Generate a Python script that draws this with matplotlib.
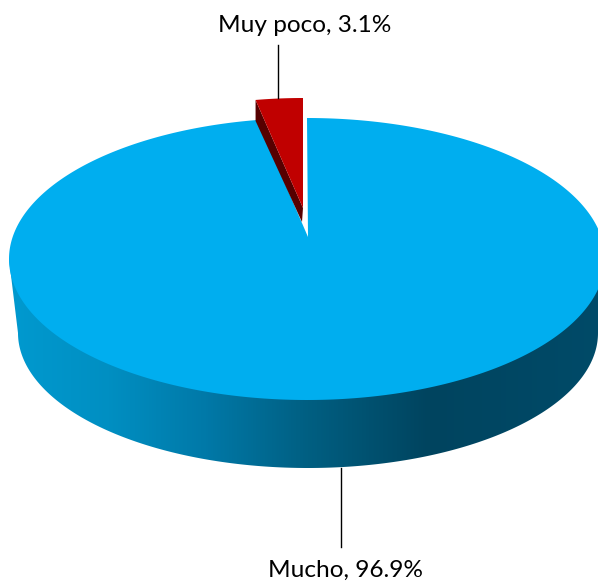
import numpy as np
import matplotlib
matplotlib.use("Agg")
import matplotlib.pyplot as plt
from matplotlib.colors import LinearSegmentedColormap
from matplotlib.patches import Polygon

categories = ["Mucho", "Muy poco"]
values = [96.9, 3.1]

W, H = 598, 582
fig = plt.figure(figsize=(W / 100, H / 100), dpi=100)
ax = fig.add_axes([0, 0, 1, 1])
ax.set_axis_off()

# Tilted disc geometry (pixels)
CX, CY, RX, RY = 307, 259, 298, 141
AX, AY = 308, 237
V0 = (CY - AY) / RY


def rim(t, cx=CX, cy=CY, rx=RX, ry=RY):
    """Perspective projection of a disc point at clockwise angle t (radians)."""
    u, v = np.sin(t), np.cos(t)
    d = 1 + v * V0
    return cx + rx * u * np.sqrt(1 - V0 ** 2) / d, cy - ry * (v + V0) / d


shares = np.array(values) / sum(values) * 2 * np.pi
t_main = np.linspace(0, shares[0], 400)
t_small = np.linspace(shares[0], 2 * np.pi, 30)

# Side wall with horizontal gradient
LCX, LCY, LRX, LRY = 308, 333, 290, 135
p = np.linspace(0, np.pi, 300)
side_x = np.r_[CX - RX, LCX - LRX * np.cos(p), CX + RX]
side_y = np.r_[CY, LCY + LRY * np.sin(p), CY]
stops = [(0.0, "#009AD0"), (0.17, "#008FC2"), (0.33, "#0079A8"), (0.5, "#005F82"),
         (0.7, "#00445F"), (1.0, "#004B69")]
cmap = LinearSegmentedColormap.from_list("side", stops)
grad = np.linspace(0, 1, 512)[None, :]
img = ax.imshow(grad, cmap=cmap, extent=(5, 610, 480, 250), aspect="auto", zorder=1)
clip = Polygon(np.c_[side_x, side_y], closed=True, transform=ax.transData, fc="none", ec="none")
ax.add_patch(clip)
img.set_clip_path(clip)

# Main slice top
x, y = rim(t_main)
ax.add_patch(Polygon(np.c_[np.r_[AX, x], np.r_[AY, y]], closed=True, fc="#00AEEF", ec="none", zorder=2))

# Exploded slice
xs, ys = rim(t_small, cx=303, cy=CY - 20, rx=RX * 0.96)
xs = xs + (303 - xs[-1])
ax.add_patch(Polygon([(xs[0], ys[0]), (xs[0], ys[0] + 21), (302, 222), (303, 208)],
                     closed=True, fc="#560000", ec="none", zorder=3))
ax.add_patch(Polygon(np.c_[np.r_[303, xs], np.r_[208, ys]], closed=True, fc="#C00000", ec="none", zorder=4))

# Leader lines and labels
ax.plot([278, 278], [45, 98], color="black", lw=1, zorder=5)
ax.plot([341, 341], [468, 547], color="black", lw=1, zorder=5)
font = dict(family="Lato", fontsize=17.6, color="black", ha="center", va="center")
ax.text(305, 26, f"{categories[1]}, {values[1]}%", **font)
ax.text(345, 570, f"{categories[0]}, {values[0]}%", **font)

ax.set_xlim(0, W)
ax.set_ylim(H, 0)
fig.savefig("out.png", dpi=100, facecolor="white")
